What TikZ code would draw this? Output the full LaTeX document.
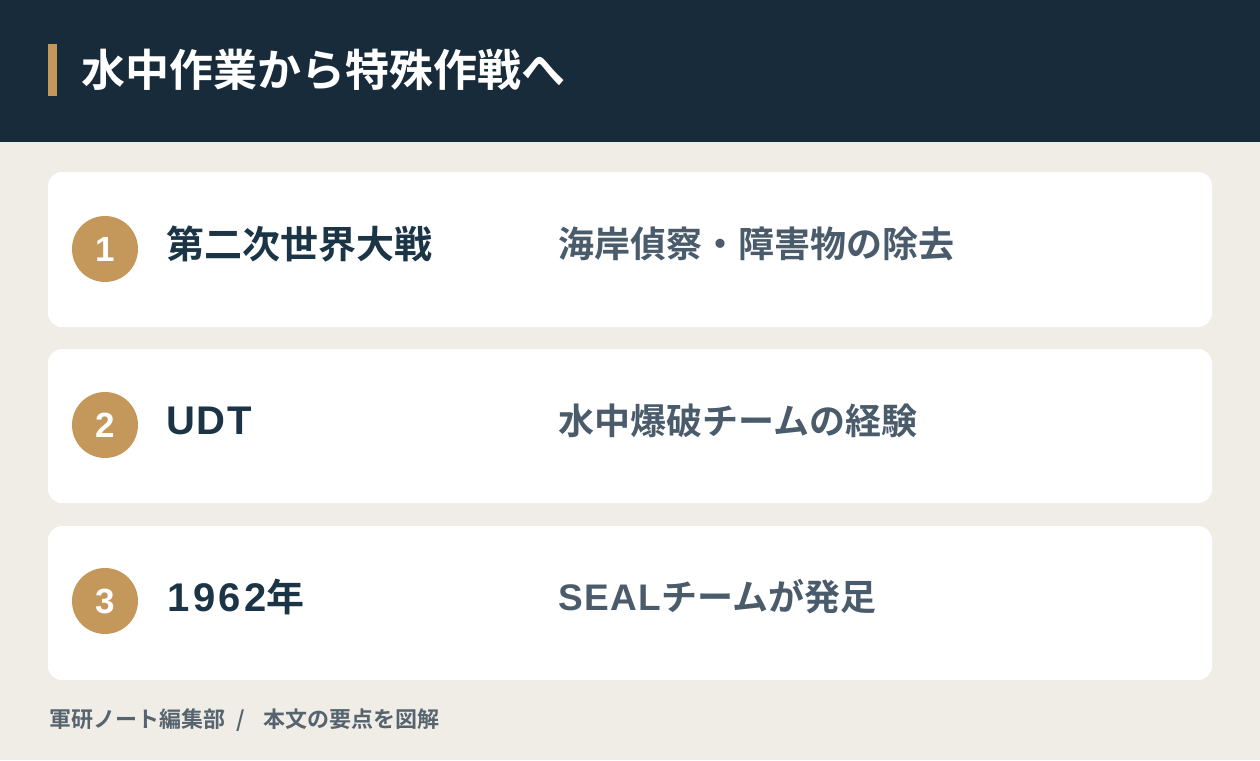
\documentclass[tikz,border=0pt]{standalone}
\usepackage{fontspec}
\setmainfont{Noto Sans CJK JP}[BoldFont={Noto Sans CJK JP Bold}]
\newfontfamily\jpbold{Noto Sans CJK JP Bold}
\newfontfamily\latinb{Liberation Sans Bold}[LetterSpace=4]
\newfontfamily\latind{Liberation Sans Bold}[LetterSpace=9]
\newfontfamily\digitfont{Liberation Sans Bold}
\definecolor{navy}{HTML}{172B3A}
\definecolor{gold}{HTML}{C4975A}
\definecolor{paper}{HTML}{F0EDE7}
\definecolor{lefttxt}{HTML}{1B3446}
\definecolor{righttxt}{HTML}{4A5C6B}
\definecolor{foot}{HTML}{56646F}
\tikzset{
  card/.style={fill=white, rounded corners=14pt, draw=none},
  badge/.style={circle, fill=gold, minimum size=66pt, inner sep=0pt, text=white, font=\digitfont\fontsize{35}{35}\selectfont},
  lefttext/.style={anchor=west, inner sep=0pt, text=lefttxt, font=\jpbold\fontsize{38}{38}\selectfont},
  righttext/.style={anchor=west, inner sep=0pt, text=righttxt, font=\jpbold\fontsize{36}{36}\selectfont},
}
\begin{document}
\begin{tikzpicture}[x=1pt,y=-1pt]
\useasboundingbox (0,0) rectangle (1260,760);
\fill[paper] (0,0) rectangle (1260,760);
\fill[navy] (0,0) rectangle (1260,142);
\fill[gold] (48,44) rectangle (57,96);
\node[anchor=west, inner sep=0pt, text=white, font=\jpbold\fontsize{44}{44}\selectfont] (title) at (81,70) {水中作業から特殊作戦へ};
% cards
\fill[card] (48,172) rectangle (1212,327);
\fill[card] (48,349) rectangle (1212,503);
\fill[card] (48,526) rectangle (1212,680);
\node[badge] (b1) at (105,249) {1};
\node[badge] (b2) at (105,425) {2};
\node[badge] (b3) at (105,601) {3};
\node[lefttext] (l1) at (166,244) {第二次世界大戦};
\node[lefttext] (l2) at (166,421) {{\latinb\fontsize{40}{40}\selectfont UDT}};
\node[lefttext] (l3) at (167,597) {{\latind\fontsize{40}{40}\selectfont 1962}年};
\node[righttext] (r1) at (558,244) {海岸偵察・障害物の除去};
\node[righttext] (r2) at (558,421) {水中爆破チームの経験};
\node[righttext] (r3) at (558,597) {{\latinb\fontsize{37}{37}\selectfont SEAL}チームが発足};
\node[anchor=west, inner sep=0pt, text=foot, font=\jpbold\fontsize{22}{22}\selectfont] (foot) at (49,720) {軍研ノート編集部\hspace{11pt}/\hspace{19pt}本文の要点を図解};
\end{tikzpicture}
\end{document}
